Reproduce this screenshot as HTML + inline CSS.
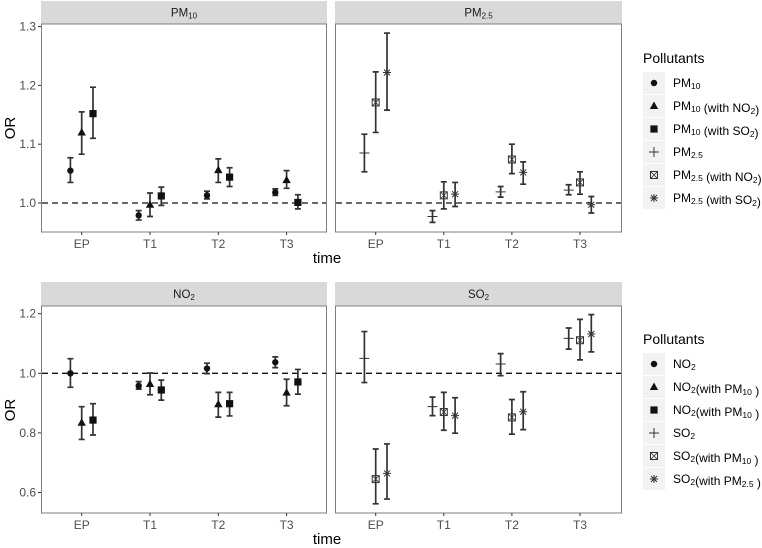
<!DOCTYPE html>
<html><head><meta charset="utf-8"><style>
body{margin:0;background:#fff;}
svg{display:block;font-family:"Liberation Sans",Arial,sans-serif;}
</style></head><body>
<svg id="chart" width="762" height="548" viewBox="0 0 762 548" xmlns="http://www.w3.org/2000/svg"></svg>
<script>
const categories = ["EP","T1","T2","T3"];
const pm10_est = [1.055,0.979,1.013,1.018];
const pm10_lo  = [1.035,0.971,1.007,1.013];
const pm10_hi  = [1.077,0.987,1.020,1.024];
const pm10no2_est = [1.120,0.997,1.056,1.039];
const pm10no2_lo  = [1.083,0.977,1.035,1.025];
const pm10no2_hi  = [1.155,1.017,1.075,1.055];
const pm10so2_est = [1.152,1.012,1.044,1.001];
const pm10so2_lo  = [1.110,0.996,1.028,0.990];
const pm10so2_hi  = [1.197,1.027,1.060,1.014];
const pm25_est = [1.085,0.977,1.019,1.022];
const pm25_lo  = [1.053,0.967,1.010,1.014];
const pm25_hi  = [1.117,0.987,1.028,1.031];
const pm25no2_est = [1.171,1.013,1.074,1.035];
const pm25no2_lo  = [1.120,0.990,1.050,1.015];
const pm25no2_hi  = [1.223,1.036,1.100,1.053];
const pm25so2_est = [1.222,1.015,1.052,0.997];
const pm25so2_lo  = [1.158,0.994,1.032,0.983];
const pm25so2_hi  = [1.289,1.035,1.070,1.011];
const no2_est = [1.000,0.958,1.016,1.037];
const no2_lo  = [0.953,0.947,0.999,1.019];
const no2_hi  = [1.049,0.972,1.034,1.055];
const no2pm_est = [0.834,0.964,0.896,0.935];
const no2pm_lo  = [0.778,0.928,0.853,0.891];
const no2pm_hi  = [0.888,1.001,0.936,0.980];
const no2pm2_est = [0.843,0.944,0.898,0.971];
const no2pm2_lo  = [0.793,0.910,0.857,0.930];
const no2pm2_hi  = [0.898,0.977,0.936,1.013];
const so2_est = [1.050,0.888,1.031,1.117];
const so2_lo  = [0.969,0.858,0.992,1.081];
const so2_hi  = [1.140,0.920,1.066,1.152];
const so2pm_est = [0.645,0.870,0.852,1.111];
const so2pm_lo  = [0.562,0.809,0.796,1.045];
const so2pm_hi  = [0.746,0.936,0.912,1.181];
const so2pm25_est = [0.664,0.858,0.871,1.132];
const so2pm25_lo  = [0.578,0.799,0.811,1.072];
const so2pm25_hi  = [0.763,0.918,0.938,1.197];
const topTicks = [1.0,1.1,1.2,1.3];
const topTickLabels = ["1.0","1.1","1.2","1.3"];
const botTicks = [0.6,0.8,1.0,1.2];
const botTickLabels = ["0.6","0.8","1.0","1.2"];

const NS="http://www.w3.org/2000/svg";
const svg=document.getElementById('chart');
function mk(tag,attrs,parent){const e=document.createElementNS(NS,tag);for(const k in attrs)e.setAttribute(k,attrs[k]);(parent||svg).appendChild(e);return e;}

function shape(type,x,y,g){
  const c="#111";
  if(type==="circle"){mk('circle',{cx:x,cy:y,r:3.2,fill:c},g);}
  else if(type==="tri"){mk('polygon',{points:`${x},${y-4.5} ${x-4.2},${y+3} ${x+4.2},${y+3}`,fill:c},g);}
  else if(type==="square"){mk('rect',{x:x-3.6,y:y-3.6,width:7.2,height:7.2,fill:c},g);}
  else if(type==="plus"){mk('path',{d:`M${x-5},${y}H${x+5}M${x},${y-5}V${y+5}`,stroke:"#333","stroke-width":1},g);}
  else if(type==="boxx"){mk('rect',{x:x-3.5,y:y-3.5,width:7,height:7,fill:"none",stroke:"#333","stroke-width":1},g);mk('path',{d:`M${x-3.5},${y-3.5}L${x+3.5},${y+3.5}M${x+3.5},${y-3.5}L${x-3.5},${y+3.5}`,stroke:"#333","stroke-width":0.8},g);}
  else if(type==="star"){mk('path',{d:`M${x-4},${y}H${x+4}M${x},${y-4}V${y+4}M${x-3},${y-3}L${x+3},${y+3}M${x+3},${y-3}L${x-3},${y+3}`,stroke:"#333","stroke-width":1},g);}
}

function panel(o){
  const g=mk('g',{});
  
  
  const s=mk('rect',{x:o.x0,y:o.sy0,width:o.x1-o.x0,height:o.py0-o.sy0,fill:"#d9d9d9"},g);
  
  
  const st=mk('text',{x:(o.x0+o.x1)/2,y:(o.sy0+o.py0)/2+4,"text-anchor":"middle","font-size":"11.5",fill:"#1a1a1a"},g);
  st.innerHTML=o.title;
  
  
  mk('rect',{x:o.x0+0.5,y:o.py0,width:o.x1-o.x0-1,height:o.py1-o.py0,fill:"#fff",stroke:"#7f7f7f","stroke-width":1},g);
  const ys=v=>o.yref+(o.vref-v)*o.ppu;
  const xs=i=>o.x0+o.xfirst+i*o.xstep;
  mk('line',{x1:o.x0+1,x2:o.x1-1,y1:ys(1),y2:ys(1),stroke:"#111","stroke-width":1.3,"stroke-dasharray":"6,4"},g);
  if(o.yticks){
    o.yticks.forEach((t,i)=>{
      const y=ys(t);
      mk('line',{x1:o.x0-3,x2:o.x0,y1:y,y2:y,stroke:"#333"},g);
      const tt=mk('text',{x:o.x0-5,y:y+4,"text-anchor":"end","font-size":"12",fill:"#4d4d4d"},g);
      tt.textContent=o.ylabels[i];
      
      
    });
  }
  categories.forEach((c,i)=>{
    const x=xs(i);
    mk('line',{x1:x,x2:x,y1:o.py1,y2:o.py1+3,stroke:"#333"},g);
    const tt=mk('text',{x:x,y:o.py1+16,"text-anchor":"middle","font-size":"12",fill:"#4d4d4d"},g);
    tt.textContent=c;
    
    
  });
  o.series.forEach((sr,si)=>{
    const off=(si-1)*11.3;
    sr.est.forEach((v,i)=>{
      const x=xs(i)+off;
      const e=mk('path',{d:`M${x-3},${ys(sr.hi[i])}H${x+3}M${x},${ys(sr.hi[i])}V${ys(sr.lo[i])}M${x-3},${ys(sr.lo[i])}H${x+3}`,stroke:"#333","stroke-width":1.7,fill:"none"},g);
      
      
      shape(sr.shape,x,ys(v),g);
    });
  });
}

const topY={sy0:1,py0:24,py1:232,yref:203,vref:1.0,ppu:588};
const botY={sy0:282,py0:306,py1:513,yref:373.3,vref:1.0,ppu:298};
panel(Object.assign({name:'pm10-panel',title:'PM<tspan font-size="8" dy="2">10</tspan>',x0:41,x1:327,xfirst:40.7,xstep:68.3,yticks:topTicks,ylabels:topTickLabels,
 series:[{est:pm10_est,lo:pm10_lo,hi:pm10_hi,shape:'circle'},{est:pm10no2_est,lo:pm10no2_lo,hi:pm10no2_hi,shape:'tri'},{est:pm10so2_est,lo:pm10so2_lo,hi:pm10so2_hi,shape:'square'}]},topY));
panel(Object.assign({name:'pm25-panel',title:'PM<tspan font-size="8" dy="2">2.5</tspan>',x0:335,x1:622,xfirst:40.7,xstep:68.1,
 series:[{est:pm25_est,lo:pm25_lo,hi:pm25_hi,shape:'plus'},{est:pm25no2_est,lo:pm25no2_lo,hi:pm25no2_hi,shape:'boxx'},{est:pm25so2_est,lo:pm25so2_lo,hi:pm25so2_hi,shape:'star'}]},topY));
panel(Object.assign({name:'no2-panel',title:'NO<tspan font-size="8" dy="2">2</tspan>',x0:41,x1:327,xfirst:40.7,xstep:68.3,yticks:botTicks,ylabels:botTickLabels,
 series:[{est:no2_est,lo:no2_lo,hi:no2_hi,shape:'circle'},{est:no2pm_est,lo:no2pm_lo,hi:no2pm_hi,shape:'tri'},{est:no2pm2_est,lo:no2pm2_lo,hi:no2pm2_hi,shape:'square'}]},botY));
panel(Object.assign({name:'so2-panel',title:'SO<tspan font-size="8" dy="2">2</tspan>',x0:335,x1:622,xfirst:40.7,xstep:68.1,
 series:[{est:so2_est,lo:so2_lo,hi:so2_hi,shape:'plus'},{est:so2pm_est,lo:so2pm_lo,hi:so2pm_hi,shape:'boxx'},{est:so2pm25_est,lo:so2pm25_lo,hi:so2pm25_hi,shape:'star'}]},botY));

[[263,'x-axis-title-top'],[544,'x-axis-title-bottom']].forEach(([y,n])=>{
  const t=mk('text',{x:327,y:y,"text-anchor":"middle","font-size":"15",fill:"#000"});t.textContent='time';
  
});
[[128,'y-axis-title-top'],[410,'y-axis-title-bottom']].forEach(([y,n])=>{
  const t=mk('text',{x:0,y:0,"text-anchor":"middle","font-size":"15",fill:"#000",transform:`translate(15,${y}) rotate(-90)`});t.textContent='OR';
  
});

function legend(y0,rowY0,items,name){
  const g=mk('g',{});
  
  
  const t=mk('text',{x:643,y:y0,"font-size":"14",fill:"#000"},g);t.textContent='Pollutants';
  items.forEach((it,i)=>{
    const cy=rowY0+i*23;
    mk('rect',{x:643,y:cy-11,width:22,height:22,fill:"#f2f2f2"},g);
    shape(it[0],654,cy,g);
    const l=mk('text',{x:673,y:cy+4,"font-size":"12",fill:"#000"},g);l.innerHTML=it[1];
    
    
  });
}
const sub=s=>`<tspan font-size="8.5" dy="2">${s}</tspan><tspan dy="-2"></tspan>`;
legend(63,83,[['circle','PM'+sub('10')],['tri','PM'+sub('10')+' (with NO'+sub('2')+')'],['square','PM'+sub('10')+' (with SO'+sub('2')+')'],['plus','PM'+sub('2.5')],['boxx','PM'+sub('2.5')+' (with NO'+sub('2')+')'],['star','PM'+sub('2.5')+' (with SO'+sub('2')+')']],'legend-top');
legend(344,364,[['circle','NO'+sub('2')],['tri','NO'+sub('2')+'(with PM'+sub('10')+' )'],['square','NO'+sub('2')+'(with PM'+sub('10')+'  )'],['plus','SO'+sub('2')],['boxx','SO'+sub('2')+'(with PM'+sub('10')+' )'],['star','SO'+sub('2')+'(with PM'+sub('2.5')+' )']],'legend-bottom');
</script>
</body></html>
